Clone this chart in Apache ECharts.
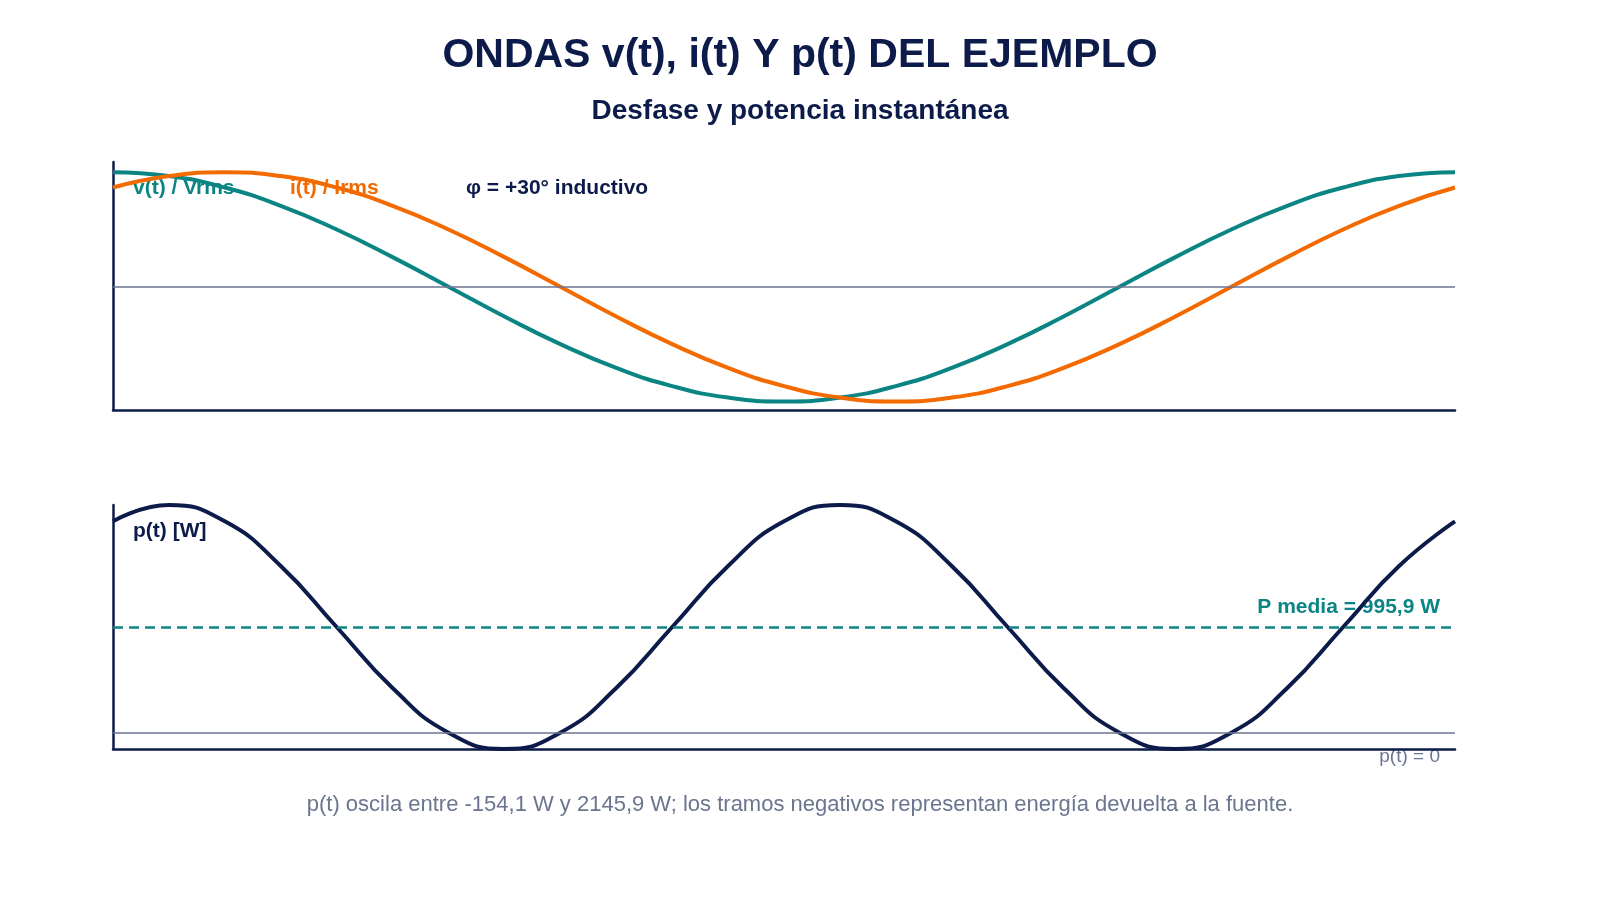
<!DOCTYPE html>
<html><head><meta charset="utf-8">
<script src="https://cdn.jsdelivr.net/npm/echarts@6/dist/echarts.min.js"></script>
<style>html,body{margin:0;padding:0;background:#fff}#c{width:1600px;height:900px}</style>
</head><body><div id="c"></div>
<script>
const angles = [0,15,30,45,60,75,90,105,120,135,150,165,180,195,210,225,240,255,270,285,300,315,330,345,360];
const vNorm = [1.414,1.366,1.225,1.0,0.707,0.366,0,-0.366,-0.707,-1.0,-1.225,-1.366,-1.414,-1.366,-1.225,-1.0,-0.707,-0.366,0,0.366,0.707,1.0,1.225,1.366,1.414];
const iNorm = [1.225,1.366,1.414,1.366,1.225,1.0,0.707,0.366,0,-0.366,-0.707,-1.0,-1.225,-1.366,-1.414,-1.366,-1.225,-1.0,-0.707,-0.366,0,0.366,0.707,1.0,1.225];
const pInst = [1991.8,2145.9,1991.8,1570.9,995.9,420.9,0,-154.1,0,420.9,995.9,1570.9,1991.8,2145.9,1991.8,1570.9,995.9,420.9,0,-154.1,0,420.9,995.9,1570.9,1991.8];
const pMean = 995.9;

const NAVY='#0d1b4a', TEAL='#0b8583', ORANGE='#f26a00', GRAY='#6b7590';
const pairs = a => angles.map((x,k)=>[x,a[k]]);
const chart = echarts.init(document.getElementById('c'));
const xAx = gi => ({type:'value',gridIndex:gi,min:0,max:360,axisLabel:{show:false},axisTick:{show:false},splitLine:{show:false},axisLine:{onZero:false,lineStyle:{color:NAVY,width:2.5}}});
const yAx = (gi,mn,mx) => ({type:'value',gridIndex:gi,min:mn,max:mx,axisLabel:{show:false},axisTick:{show:false},splitLine:{show:false},axisLine:{show:true,onZero:false,lineStyle:{color:NAVY,width:2.5}}});
const F='Liberation Sans, Arial, sans-serif';
chart.setOption({
  animation:false,
  title:[{text:'ONDAS v(t), i(t) Y p(t) DEL EJEMPLO',left:'center',top:30,textStyle:{fontFamily:F,fontSize:41,fontWeight:'bold',color:NAVY}},
         {text:'Desfase y potencia instantánea',left:'center',top:92,textStyle:{fontFamily:F,fontSize:28,fontWeight:'bold',color:NAVY}}],
  grid:[{left:113,right:145,top:162,height:248},{left:113,right:145,top:505,height:244}],
  xAxis:[xAx(0),xAx(1)],
  yAxis:[yAx(0,-1.52,1.54),yAx(1,-154.1,2145.9)],
  series:[
    {type:'line',xAxisIndex:0,yAxisIndex:0,data:pairs(vNorm),smooth:0.5,showSymbol:false,lineStyle:{color:TEAL,width:4},
      markLine:{silent:true,symbol:'none',label:{show:false},lineStyle:{color:GRAY,width:1.5,type:'solid'},data:[{yAxis:0}]}},
    {type:'line',xAxisIndex:0,yAxisIndex:0,data:pairs(iNorm),smooth:0.5,showSymbol:false,lineStyle:{color:ORANGE,width:4}},
    {type:'line',xAxisIndex:1,yAxisIndex:1,data:pairs(pInst),smooth:0.5,showSymbol:false,lineStyle:{color:NAVY,width:4},
      markLine:{silent:true,symbol:'none',label:{show:false},data:[
        {yAxis:0,lineStyle:{color:GRAY,width:1.5,type:'solid'}},
        {yAxis:pMean,lineStyle:{color:TEAL,width:2.5,type:[10,6]}}]}}
  ],
  graphic:[
    {type:'text',left:133,top:178,style:{text:'v(t) / Vrms',fill:TEAL,font:'bold 21px '+F}},
    {type:'text',left:290,top:178,style:{text:'i(t) / Irms',fill:ORANGE,font:'bold 21px '+F}},
    {type:'text',left:466,top:178,style:{text:'φ = +30° inductivo',fill:NAVY,font:'bold 21px '+F}},
    {type:'text',left:133,top:521,style:{text:'p(t) [W]',fill:NAVY,font:'bold 21px '+F}},
    {type:'text',right:160,top:597,style:{text:'P media = 995,9 W',fill:TEAL,font:'bold 21px '+F}},
    {type:'text',right:160,top:747,style:{text:'p(t) = 0',fill:GRAY,font:'19px '+F}},
    {type:'text',left:'center',top:794,style:{text:'p(t) oscila entre -154,1 W y 2145,9 W; los tramos negativos representan energía devuelta a la fuente.',fill:GRAY,font:'22px '+F}}
  ]
});
</script></body></html>
